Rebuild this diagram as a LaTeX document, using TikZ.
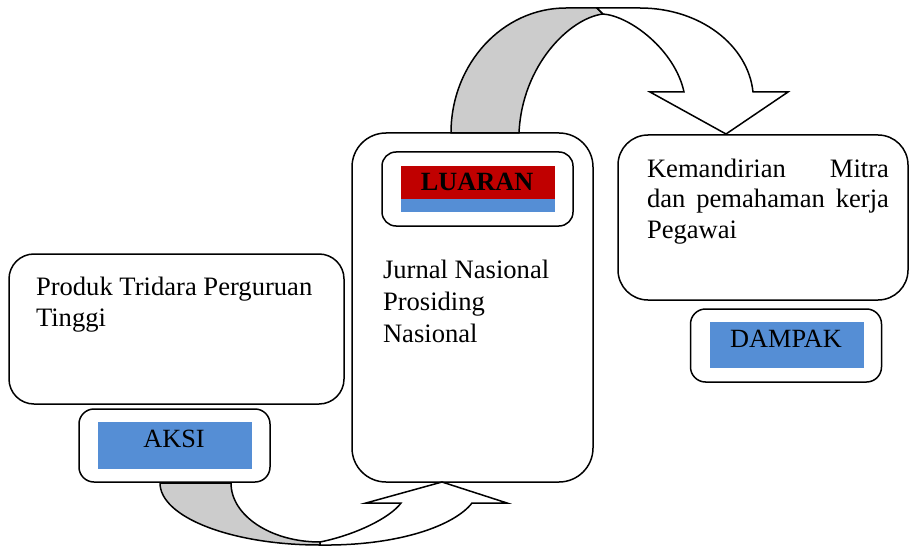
\documentclass[tikz,border=0pt]{standalone}
\usepackage{fontspec}
\setmainfont{Liberation Serif}
\definecolor{boxblue}{RGB}{85,142,213}
\definecolor{boxred}{RGB}{192,0,0}
\definecolor{backgray}{RGB}{204,204,204}
\begin{document}
\begin{tikzpicture}[x=1pt,y=-1pt,
  every node/.style={inner sep=0pt, outer sep=0pt},
  frame/.style={draw=black, line width=1.5pt, fill=white},
  bigframe/.style={frame, rounded corners=25pt},
  smallframe/.style={frame, rounded corners=15pt, minimum width=191pt, minimum height=73pt},
  bar/.style={minimum width=154pt},
  body/.style={font=\fontsize{26.6}{31}\selectfont, anchor=base west},
  tag/.style={font=\fontsize{26.3}{31}\selectfont, anchor=base},
  backface/.style={draw=black, fill=backgray, line width=1.5pt, line join=round},
  frontface/.style={draw=black, fill=white, line width=1.5pt, line join=miter},
]
\useasboundingbox (0,0) rectangle (909,548);

% --- left column: action
\node[bigframe, minimum width=335pt, minimum height=150pt] (produk) at (176.5,329) {};
\node[body] (produkText) at (36,295)
  {\parbox[t]{300pt}{\raggedright Produk Tridara Perguruan\\Tinggi}};
\node[smallframe] (aksiBox) at (174.5,445.5) {};
\node[bar, fill=boxblue, minimum height=47pt] (aksiFill) at (175,445.5) {};
\node[tag] (aksiText) at (174,447) {AKSI};

% --- middle column: output
\node[frame, rounded corners=34pt, minimum width=241pt, minimum height=349pt] (luaranBox) at (472.5,307.5) {};
\node[frame, rounded corners=14pt, minimum width=191pt, minimum height=74pt] (luaranTag) at (477.5,189) {};
\node[bar, fill=boxred, minimum height=33pt] (luaranRed) at (478,182.5) {};
\node[bar, fill=boxblue, minimum height=13pt] (luaranBlue) at (478,205.5) {};
\node[tag] (luaranText) at (477,190) {\textbf{LUARAN}};
\node[body, font=\fontsize{26.6}{32}\selectfont] (luaranList) at (383,278)
  {\parbox[t]{200pt}{\raggedright Jurnal Nasional\\Prosiding\\Nasional}};

% --- right column: impact
\node[frame, rounded corners=30pt, minimum width=290pt, minimum height=165pt] (dampakBox) at (763,217.5) {};
\node[body, font=\fontsize{26.6}{30}\selectfont] (dampakText) at (647,178)
  {\parbox[t]{242pt}{\makebox[242pt][s]{Kemandirian Mitra}\\
   \makebox[242pt][s]{dan pemahaman kerja}\\Pegawai}};
\node[smallframe] (dampakTag) at (786,345.5) {};
\node[bar, fill=boxblue, minimum height=46pt] (dampakFill) at (787,345) {};
\node[tag] (dampakLabel) at (786,347) {DAMPAK};

% --- curved arrow from the output box over to the impact box
\filldraw[backface] (451,133) .. controls (451,64) and (502.5,8) .. (566,8)
  -- (597,8) -- (603,14) .. controls (570,18) and (522,65) .. (519,133) -- cycle;
\filldraw[frontface] (597,8) -- (640,8) .. controls (700,8) and (748,45) .. (753,92)
  -- (788,92) -- (726,134) -- (650,92) -- (684,92)
  .. controls (675,50) and (630,16) .. (603,14) -- cycle;

% --- curved arrow from the action box under to the output box
\filldraw[backface] (160,483) .. controls (160,517.2) and (231.6,545) .. (320,545)
  -- (320,542) .. controls (270.8,542) and (231,515.6) .. (231,483) -- cycle;
\filldraw[frontface] (320,545) .. controls (400,546) and (455,525) .. (472,503)
  -- (507,503) -- (442,482) -- (366,503) -- (401,503)
  .. controls (390,518) and (355,535) .. (320,542) -- cycle;
\end{tikzpicture}
\end{document}
